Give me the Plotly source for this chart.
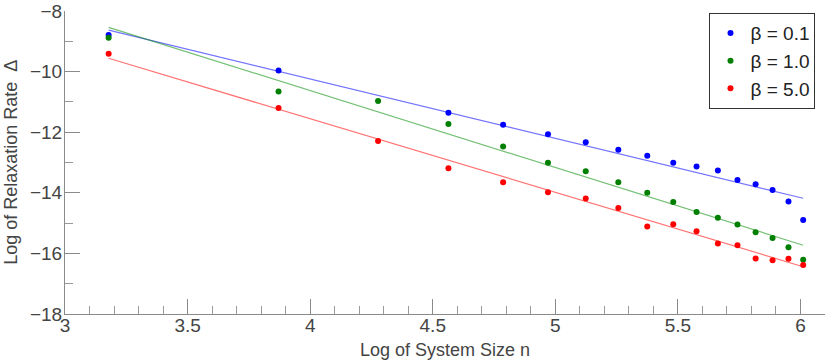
import plotly.graph_objects as go

# log of system size (n = 24, 48, ..., 408)
log_n = [3.178, 3.871, 4.277, 4.564, 4.787, 4.970, 5.124, 5.257, 5.375,
         5.481, 5.576, 5.663, 5.743, 5.817, 5.886, 5.951, 6.011]

# beta = 0.1 has no point at n = 72
log_n_b01 = [3.178, 3.871, 4.564, 4.787, 4.970, 5.124, 5.257, 5.375,
             5.481, 5.576, 5.663, 5.743, 5.817, 5.886, 5.951, 6.011]
rate_b01 = [-8.79, -9.96, -11.36, -11.75, -12.07, -12.33, -12.58, -12.78,
            -13.01, -13.13, -13.26, -13.58, -13.72, -13.91, -14.29, -14.90]
rate_b10 = [-8.88, -10.66, -10.97, -11.73, -12.47, -13.01, -13.29, -13.65, -14.00,
            -14.30, -14.63, -14.82, -15.05, -15.30, -15.49, -15.80, -16.21]
rate_b50 = [-9.41, -11.20, -12.29, -13.19, -13.65, -13.98, -14.19, -14.50, -15.11,
            -15.04, -15.27, -15.67, -15.73, -16.17, -16.23, -16.18, -16.38]

# linear fit lines, read at both ends
fit_x = [3.178, 6.011]
fit_b01 = [-8.63, -14.18]
fit_b10 = [-8.54, -15.73]
fit_b50 = [-9.56, -16.44]

series = [
    ("β = 0.1", log_n_b01, rate_b01, fit_b01, "#0000ff", "rgba(0,0,255,0.55)"),
    ("β = 1.0", log_n, rate_b10, fit_b10, "#007f00", "rgba(0,140,0,0.55)"),
    ("β = 5.0", log_n, rate_b50, fit_b50, "#ff0000", "rgba(255,0,0,0.55)"),
]

fig = go.Figure()
for name, xs, ys, fit, col, lcol in series:
    fig.add_trace(go.Scatter(x=fit_x, y=fit, mode="lines", line=dict(color=lcol, width=1.2),
                             showlegend=False, hoverinfo="skip"))
for name, xs, ys, fit, col, lcol in series:
    fig.add_trace(go.Scatter(x=xs, y=ys, mode="markers", name=name,
                             marker=dict(color=col, size=6)))

axis_common = dict(
    showgrid=False, zeroline=False, showline=True, linecolor="#8a8a8a", linewidth=1,
    ticks="inside", ticklen=15, tickcolor="#8a8a8a", tickwidth=1,
    tickfont=dict(size=19, color="#444444"), mirror=False, automargin=False,
)

fig.update_xaxes(
    range=[3, 6.1], dtick=0.5, tick0=3, ticklabelstandoff=-6,
    minor=dict(ticks="inside", ticklen=8, dtick=0.1, tickcolor="#9a9a9a"),
    **axis_common,
)
fig.update_yaxes(
    range=[-18, -8], dtick=2, tick0=-18, ticklabelstandoff=-2,
    minor=dict(ticks="inside", ticklen=8, dtick=1, tickcolor="#9a9a9a"),
    **axis_common,
)

title_font = dict(size=18, color="#444444")
fig.add_annotation(text="Log of System Size n", xref="paper", yref="paper",
                   x=0.5, y=-0.12, xanchor="center", yanchor="middle",
                   showarrow=False, font=title_font)
fig.add_annotation(text="Log of Relaxation Rate  Δ", xref="paper", yref="paper",
                   x=-0.072, y=0.5, xanchor="center", yanchor="middle", textangle=-90,
                   showarrow=False, font=title_font)

fig.update_layout(
    width=830, height=361,
    margin=dict(l=65, r=5, t=11, b=47),
    plot_bgcolor="white", paper_bgcolor="white",
    font=dict(family="Liberation Sans, Arial, sans-serif", color="#444444"),
    legend=dict(x=0.848, y=0.993, xanchor="left", yanchor="top",
                bgcolor="white", bordercolor="#333333", borderwidth=1,
                font=dict(size=19, color="#222222"), itemwidth=30),
)

fig.write_html("out.html", config={"displayModeBar": False},
               post_script="document.body.style.margin='0';")
